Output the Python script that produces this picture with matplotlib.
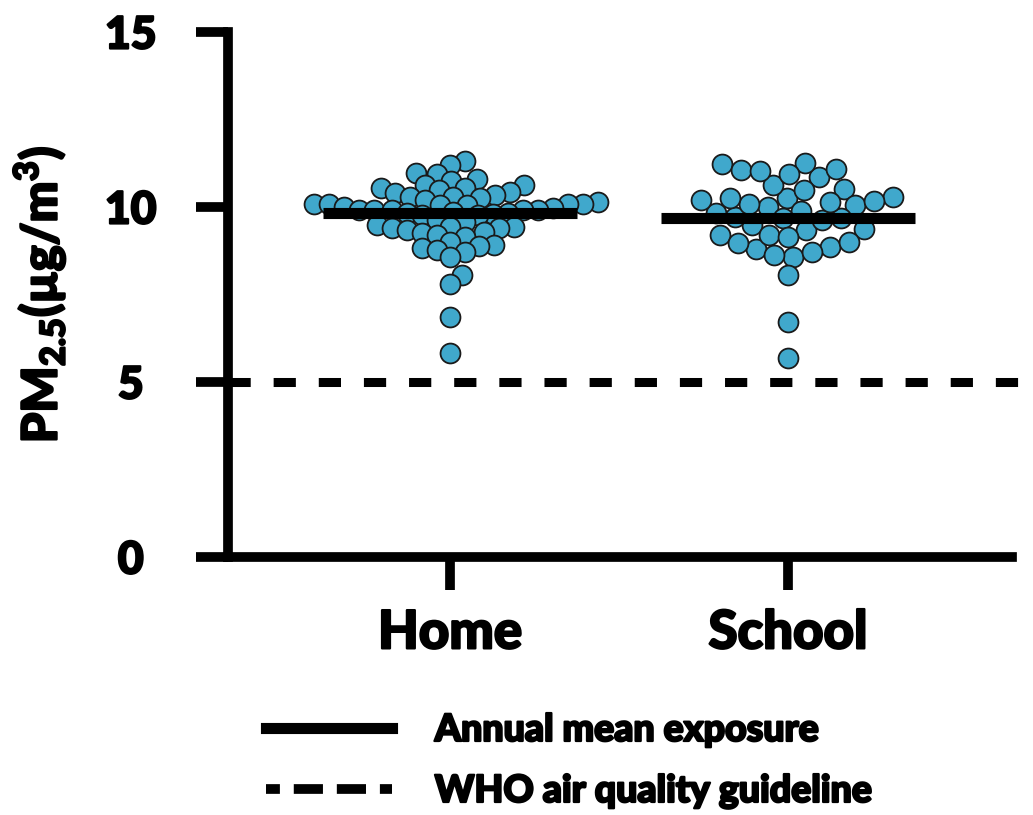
import numpy as np
import matplotlib
matplotlib.use("Agg")
import matplotlib.pyplot as plt
import matplotlib.patheffects as pe
from matplotlib.lines import Line2D

plt.rcParams['font.family'] = ['Lato', 'DejaVu Sans']
plt.rcParams['font.weight'] = 'black'
plt.rcParams['lines.scale_dashes'] = False

# data (PM2.5, ug/m3)
categories = ["Home", "School"]
home = [11.32, 11.20, 10.98, 10.93, 10.79, 10.75, 10.63, 10.63, 10.53, 10.53,
        10.49, 10.44, 10.39, 10.34, 10.29, 10.29, 10.25, 10.20, 10.15, 10.10,
        10.09, 10.09, 10.08, 10.06, 10.06, 10.01, 9.96, 9.91, 9.91, 9.91,
        9.91, 9.91, 9.86, 9.84, 9.82, 9.80, 9.77, 9.77, 9.63, 9.58,
        9.49, 9.44, 9.44, 9.39, 9.39, 9.34, 9.29, 9.25, 9.20, 9.15,
        9.01, 8.91, 8.89, 8.82, 8.77, 8.72, 8.58, 8.06, 7.80, 6.85, 5.82]
school = [10.25, 10.85, 10.29, 9.89, 9.36, 8.85, 11.23, 10.51, 10.01, 9.34,
          8.79, 11.06, 10.63, 10.06, 9.49, 9.01, 11.25, 10.49, 9.84, 8.58,
          8.06, 6.72, 5.68, 11.03, 10.17, 9.68, 9.20, 8.72, 10.20, 9.72,
          9.20, 8.63, 11.08, 10.10, 9.63, 8.98, 10.94, 10.13, 9.68, 9.15, 10.25]
means = [9.83, 9.69]
who_guideline = 5
yticks = [0, 5, 10, 15]

DOT = '#40A8CC'
BOLD = [pe.withStroke(linewidth=1.6, foreground='black')]


def swarm_x(ax, center, values, d):
    # simple beeswarm: place points (sorted by value) as close to center as possible
    pts = ax.transData.transform(np.column_stack([np.full(len(values), center), values]))
    ypix = pts[:, 1]
    px_per_unit = ax.transData.transform((1, 0))[0] - ax.transData.transform((0, 0))[0]
    cands = [0.0]
    for s in np.arange(0.5, 300, 0.5):
        cands += [s, -s]
    placed = []
    xo = np.zeros(len(values))
    for i in np.argsort(ypix):
        for c in cands:
            if all((c - px) ** 2 + (ypix[i] - py) ** 2 >= d * d for px, py in placed):
                break
        placed.append((c, ypix[i]))
        xo[i] = c
    return center + xo / px_per_unit


fig = plt.figure(figsize=(10.33, 8.15), dpi=100)
ax = fig.add_axes([228 / 1033, 1 - 557 / 815, (1012 - 228) / 1033, (557 - 32) / 815])
ax.set_xlim(-0.657, 1.663)
ax.set_ylim(0, 15)

for pos, vals, d in zip([0, 1], [home, school], [15, 19]):
    xs = swarm_x(ax, pos, vals, d)
    ax.scatter(xs, vals, s=205, color=DOT, edgecolor='#1a1a1a', linewidth=1.3,
               zorder=3, clip_on=False)

for pos, m in zip([0, 1], means):
    ax.hlines(m, pos - 0.375, pos + 0.375, color='black', linewidth=8, zorder=4)

ax.axhline(who_guideline, xmin=0, xmax=1.02, color='black', linewidth=6.5,
           linestyle=(0, (16, 16.5)), clip_on=False, zorder=2)

for side in ['top', 'right']:
    ax.spines[side].set_visible(False)
for side in ['left', 'bottom']:
    ax.spines[side].set_linewidth(7)
    ax.spines[side].set_capstyle('projecting')

ax.set_yticks(yticks)
ax.set_xticks([0, 1])
ax.set_xticklabels(categories, fontsize=38, fontweight='black')
ax.tick_params(axis='y', length=23, width=7, labelsize=32, pad=47)
ax.tick_params(axis='x', length=24, width=7, pad=13)
for lab in ax.get_yticklabels() + ax.get_xticklabels():
    lab.set_ha('center')
    lab.set_fontweight('black')
    lab.set_path_effects(BOLD)

ax.set_ylabel(r'PM$_{\mathregular{2.5}}$(µg/m$^{\mathregular{3}}$)', fontsize=35,
              fontweight='black', path_effects=BOLD)
ax.yaxis.set_label_coords(-0.205, 0.5)

handles = [Line2D([], [], color='black', linewidth=8),
           Line2D([], [], color='black', linewidth=7, linestyle=(11, (21, 10)))]
leg = fig.legend(handles, ["Annual mean exposure", "WHO air quality guideline"],
                 loc='upper left', bbox_to_anchor=(266 / 1033, 1 - 713 / 815),
                 frameon=False, fontsize=27, handlelength=3.35, handletextpad=1.15,
                 labelspacing=0.72, borderpad=0, borderaxespad=0)
for t in leg.get_texts():
    t.set_path_effects(BOLD)

fig.savefig('out.png', dpi=100)
